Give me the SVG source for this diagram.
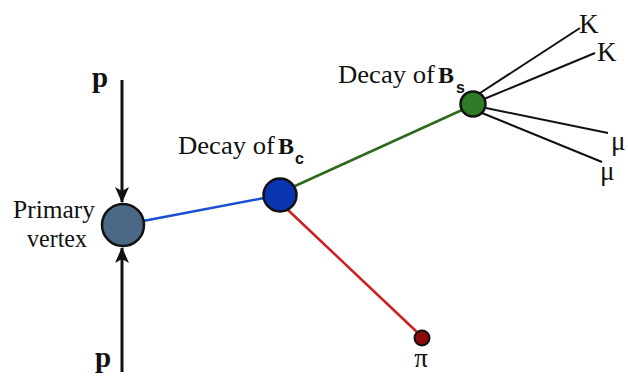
<svg xmlns="http://www.w3.org/2000/svg" width="628" height="376" viewBox="0 0 628 376">
<style>
text{font-family:"Liberation Serif","Times New Roman",serif;fill:#111}
.lbl{font-size:25px}
.b{font-weight:bold}
.sub{font-family:"Liberation Sans",Arial,sans-serif;font-weight:bold;font-size:16px}
.track{stroke:#111;stroke-width:2;fill:none}
.beam{stroke:#111;stroke-width:3;fill:none}
.v{stroke:#111;stroke-width:2.5}
</style>
<defs>
<marker id="ah" markerWidth="16" markerHeight="14" refX="15" refY="7" orient="auto" markerUnits="userSpaceOnUse">
<path d="M0,0 L16,7 L0,14 L4,7 Z" fill="#111"/>
</marker>
</defs>
<g id="connectors">
<line class="beam" x1="122" y1="80" x2="122" y2="202" marker-end="url(#ah)"/>
<line class="beam" x1="122" y1="372" x2="122" y2="248" marker-end="url(#ah)"/>
<line x1="143" y1="221" x2="264" y2="198" stroke="#1a4fd0" stroke-width="2.5"/>
<line x1="295" y1="186" x2="462" y2="110" stroke="#2e6a1e" stroke-width="2.5"/>
<line x1="288" y1="210" x2="418" y2="333" stroke="#cc1f1f" stroke-width="2.5"/>
<line class="track" x1="477" y1="95" x2="580" y2="28"/>
<line class="track" x1="484" y1="99" x2="595" y2="53"/>
<line class="track" x1="486" y1="108" x2="608" y2="133"/>
<line class="track" x1="482" y1="113" x2="602" y2="162"/>
</g>
<g id="beam-top"><text class="b" x="92" y="87" style="font-size:29px">p</text></g>
<g id="beam-bottom"><text class="b" x="95" y="367" style="font-size:29px">p</text></g>
<g id="primary-vertex">
<circle class="v" cx="123" cy="225" r="21" fill="#4b6987"/>
<text class="lbl" x="13" y="218" textLength="82" lengthAdjust="spacingAndGlyphs">Primary</text>
<text class="lbl" x="27" y="247" textLength="60" lengthAdjust="spacingAndGlyphs">vertex</text>
</g>
<g id="bc-vertex">
<circle class="v" cx="280" cy="195" r="16.5" fill="#0a35b0"/>
<text class="lbl" x="178" y="154"><tspan textLength="97" lengthAdjust="spacingAndGlyphs">Decay of</tspan><tspan class="b" x="278" style="font-size:24px">B</tspan></text>
<text class="sub" x="295" y="164">c</text>
</g>
<g id="bs-vertex">
<circle class="v" cx="473" cy="104" r="12.5" fill="#2e7a28"/>
<text class="lbl" x="338" y="83"><tspan textLength="97" lengthAdjust="spacingAndGlyphs">Decay of</tspan><tspan class="b" x="438" style="font-size:24px">B</tspan></text>
<text class="sub" x="456" y="93">s</text>
</g>
<g id="pi-vertex">
<circle cx="422" cy="338" r="7.5" fill="#8c0a0a" stroke="#111" stroke-width="2"/>
<text x="421" y="367" text-anchor="middle" style="font-size:27px">π</text>
</g>
<g id="K1"><text x="579" y="33" style="font-size:27px">K</text></g>
<g id="K2"><text x="597" y="61" style="font-size:27px">K</text></g>
<g id="mu1"><text x="611" y="150" style="font-size:27px">μ</text></g>
<g id="mu2"><text x="600" y="180" style="font-size:27px">μ</text></g>
</svg>
